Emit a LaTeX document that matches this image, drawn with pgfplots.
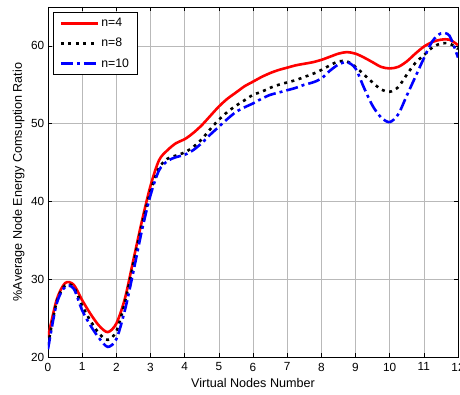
\documentclass[border=0pt]{standalone}
\usepackage{fontspec}
\setmainfont{Liberation Sans}
\usepackage{pgfplots}
\pgfplotsset{compat=1.18}
\begin{document}
\fontsize{11}{13}\selectfont
\begin{tikzpicture}
\begin{axis}[
  scale only axis, width=410pt, height=350pt,
  xmin=0, xmax=12, ymin=20, ymax=65,
  xtick={0,1,...,12}, ytick={20,30,40,50,60},
  grid=major, major grid style={gray!55, line width=0.6pt},
  tick align=inside, xtick pos=both, ytick pos=both,
  major tick length=4pt,
  tick style={black, line width=0.5pt},
  axis line style={line width=0.9pt},
  xlabel={Virtual Nodes Number}, ylabel={\%Average Node Energy Comsuption Ratio},
  xlabel style={yshift=0pt}, ylabel style={yshift=-1pt},
  /pgf/number format/assume math mode=true,
  ticklabel style={font=\fontsize{11.8}{13}\selectfont},
  xticklabel style={yshift=-2pt},
  label style={font=\fontsize{12.6}{14}\selectfont},
  legend style={at={(0.013,0.986)}, anchor=north west, draw=black, line width=0.7pt,
    font=\fontsize{12.3}{14}\selectfont, row sep=6pt, inner xsep=6pt, inner ysep=4pt},
  legend cell align=left,
  legend image code/.code={\draw[#1] (0pt,0pt) -- (37pt,0pt);},
]
\addplot[red, line width=2.6pt, smooth] coordinates {
(0,22.5)(0.25,27.3)(0.5,29.5)(0.75,29.3)(1,27.3)(1.25,25.5)(1.5,24.0)(1.75,23.2)
(2,24.3)(2.25,27.5)(2.5,32.5)(2.75,37.5)(3,42.0)(3.25,45.3)(3.5,46.6)(3.75,47.5)
(4,48.0)(4.25,48.8)(4.5,49.8)(4.75,51.0)(5,52.2)(5.25,53.2)(5.5,54.0)(5.75,54.8)
(6,55.4)(6.25,56.0)(6.5,56.5)(6.75,56.9)(7,57.2)(7.25,57.5)(7.5,57.7)(7.75,57.9)
(8,58.2)(8.25,58.6)(8.5,59.0)(8.75,59.2)(9,59.0)(9.25,58.5)(9.5,57.9)(9.75,57.3)
(10,57.1)(10.25,57.3)(10.5,58.0)(10.75,59.0)(11,59.9)(11.25,60.5)(11.5,60.8)(11.75,60.8)
(12,60.1)};
\addlegendentry{n=4}
\addplot[black, line width=2.6pt, smooth, dash pattern=on 3pt off 4.5pt] coordinates {
(0,21.5)(0.25,27.0)(0.5,29.2)(0.75,29.0)(1,26.6)(1.25,24.6)(1.5,23.0)(1.75,22.2)
(2,23.3)(2.25,27.0)(2.5,32.0)(2.75,37.0)(3,41.3)(3.25,44.3)(3.5,45.5)(3.75,45.9)
(4,46.3)(4.25,47.0)(4.5,48.0)(4.75,49.3)(5,50.5)(5.25,51.5)(5.5,52.3)(5.75,53.0)
(6,53.7)(6.25,54.1)(6.5,54.6)(6.75,55.0)(7,55.3)(7.25,55.6)(7.5,56.0)(7.75,56.4)
(8,56.9)(8.25,57.5)(8.5,58.0)(8.75,58.0)(9,57.3)(9.25,56.3)(9.5,55.3)(9.75,54.4)
(10,54.1)(10.25,54.7)(10.5,56.3)(10.75,57.8)(11,58.8)(11.25,59.8)(11.5,60.3)(11.75,60.3)
(12,59.6)};
\addlegendentry{n=8}
\addplot[blue, line width=2.6pt, smooth, dash pattern=on 12pt off 4pt on 3pt off 4pt] coordinates {
(0,21.0)(0.25,26.8)(0.5,29.0)(0.75,28.8)(1,26.0)(1.25,24.0)(1.5,22.4)(1.75,21.3)
(2,22.3)(2.25,26.0)(2.5,31.0)(2.75,36.3)(3,40.8)(3.25,44.0)(3.5,45.2)(3.75,45.7)
(4,46.0)(4.25,46.6)(4.5,47.5)(4.75,48.6)(5,49.6)(5.25,50.6)(5.5,51.5)(5.75,52.1)
(6,52.6)(6.25,53.2)(6.5,53.7)(6.75,54.0)(7,54.3)(7.25,54.6)(7.5,55.0)(7.75,55.3)
(8,55.8)(8.25,56.8)(8.5,57.6)(8.75,57.9)(9,57.1)(9.25,54.6)(9.5,52.3)(9.75,50.8)
(10,50.2)(10.25,51.2)(10.5,53.6)(10.75,56.0)(11,58.4)(11.25,60.6)(11.5,61.6)(11.75,61.3)
(12,58.5)};
\addlegendentry{n=10}
\end{axis}
\pgfresetboundingbox
\path ([xshift=-48pt,yshift=-38pt]current axis.south west) rectangle ([xshift=2pt,yshift=7pt]current axis.north east);
\end{tikzpicture}
\end{document}
